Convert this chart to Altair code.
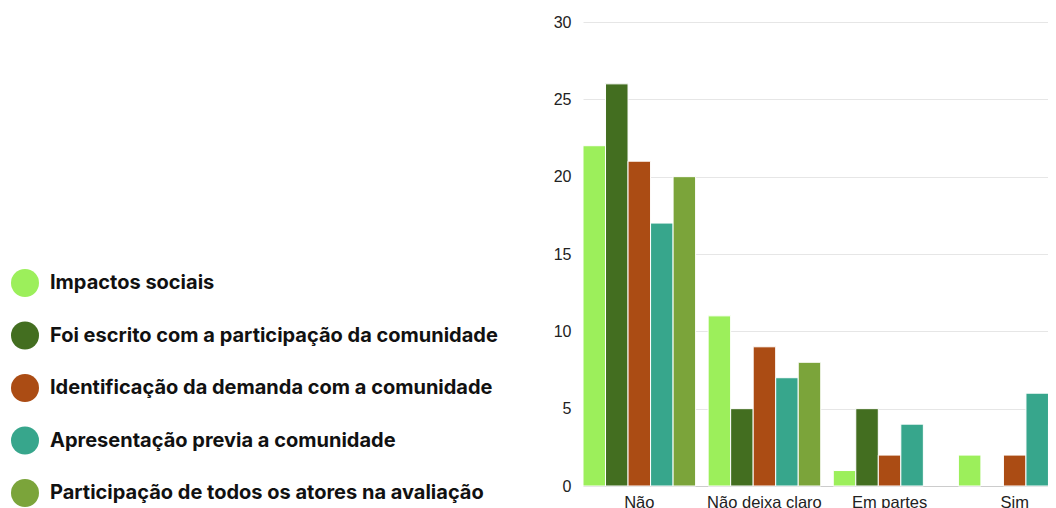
import altair as alt
import pandas as pd

categories = ["Não", "Não deixa claro", "Em partes", "Sim"]
series = [
    "Impactos sociais",
    "Foi escrito com a participação da comunidade",
    "Identificação da demanda com a comunidade",
    "Apresentação previa a comunidade",
    "Participação de todos os atores na avaliação",
]
colors = ["#9CEF5B", "#436E20", "#AB4C14", "#37A68C", "#7BA43A"]

impactos = [22, 11, 1, 2]
escrito = [26, 5, 5, 0]
identificacao = [21, 9, 2, 2]
apresentacao = [17, 7, 4, 6]
participacao = [20, 8, 0, 4]
y_ticks = [0, 5, 10, 15, 20, 25, 30]

values = [impactos, escrito, identificacao, apresentacao, participacao]
rows = []
for s, vals in zip(series, values):
    for c, v in zip(categories, vals):
        if v > 0:
            rows.append({"category": c, "series": s, "value": v})
df = pd.DataFrame(rows)

chart = alt.Chart(df).mark_bar(stroke="white", strokeWidth=1).encode(
    x=alt.X(
        "category:N",
        sort=categories,
        scale=alt.Scale(domain=categories, range=[0, 488], paddingInner=0.1, paddingOuter=0),
        axis=alt.Axis(
            title=None, labelAngle=0, ticks=False, domain=True, domainColor="#cccccc",
            labelFontSize=16.5, labelColor="#222222", labelFont="Liberation Sans",
            labelPadding=8, grid=False,
        ),
    ),
    xOffset=alt.XOffset("series:N", scale=alt.Scale(domain=series), sort=series),
    y=alt.Y(
        "value:Q",
        scale=alt.Scale(domain=[0, 30]),
        axis=alt.Axis(
            values=y_ticks, title=None, ticks=False, domain=False,
            labelFontSize=16, labelFont="Liberation Sans", labelColor="#222222",
            labelPadding=12, gridColor="#e6e6e6",
        ),
    ),
    color=alt.Color(
        "series:N",
        scale=alt.Scale(domain=series, range=colors),
        legend=alt.Legend(
            orient="none", legendX=-572, legendY=247, title=None,
            symbolType="circle", symbolSize=784, symbolStrokeWidth=0, symbolOpacity=1,
            labelFontSize=20, labelFont="Inter", labelFontWeight="bold", labelColor="#111111",
            rowPadding=24.5, labelOffset=11, labelLimit=700, padding=0,
        ),
    ),
).properties(
    width=465,
    height=464,
    autosize=alt.AutoSizeParams(type="none"),
    padding={"left": 575, "top": 14, "right": 0, "bottom": 22},
).configure_view(stroke=None)

chart.save("out.html", embed_options={"renderer": "svg", "actions": False})
